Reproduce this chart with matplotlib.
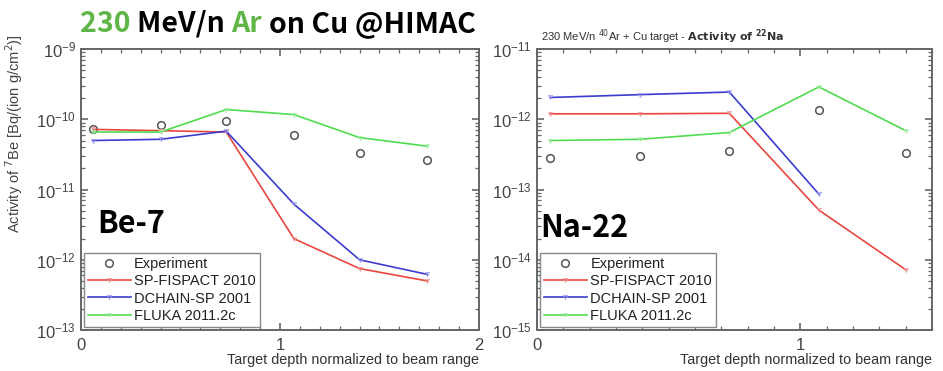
import matplotlib
matplotlib.use("Agg")
import matplotlib.pyplot as plt
from matplotlib.ticker import LogLocator, MultipleLocator, NullFormatter, FixedLocator

plt.rcParams['font.family'] = ['Liberation Sans', 'DejaVu Sans']

# Be-7 activity vs normalized target depth
be_depth = [0.06, 0.40, 0.73, 1.07, 1.40, 1.74]
be_exp = [7.4e-11, 8.3e-11, 9.5e-11, 5.9e-11, 3.3e-11, 2.6e-11]
be_fispact = [7.2e-11, 6.9e-11, 6.6e-11, 2.0e-12, 7.5e-13, 5.0e-13]
be_dchain = [5.0e-11, 5.2e-11, 6.8e-11, 6.2e-12, 1.0e-12, 6.2e-13]
be_fluka = [6.6e-11, 6.6e-11, 1.38e-10, 1.17e-10, 5.5e-11, 4.15e-11]

# Na-22 activity vs normalized target depth
na_depth = [0.05, 0.39, 0.73, 1.07, 1.40]
na_exp = [2.8e-13, 3.0e-13, 3.5e-13, 1.35e-12, 3.3e-13]
na_fispact = [1.2e-12, 1.2e-12, 1.22e-12, 5.1e-14, 7.2e-15]
na_dchain = [2.05e-12, 2.25e-12, 2.45e-12, 8.6e-14]
na_fluka = [5.0e-13, 5.2e-13, 6.5e-13, 2.9e-12, 6.9e-13]

labels = ["Experiment", "SP-FISPACT 2010", "DCHAIN-SP 2001", "FLUKA 2011.2c"]
RED, BLUE, GREEN = "#e8463f", "#3b3bd0", "#4fdc4f"
GRAY = "#666666"

fig = plt.figure(figsize=(9.43, 3.71), dpi=100)
ax1 = fig.add_axes([0.0859, 0.1105, 0.422, 0.757])
ax2 = fig.add_axes([0.5695, 0.1105, 0.419, 0.757])


def draw(ax, x, exp, fis, dch, flu):
    ax.plot(x[:len(exp)], exp, ls="none", marker="o", ms=5.5, mfc="none",
            mec="#555555", mew=1.1, label=labels[0])
    ax.plot(x[:len(fis)], fis, color=RED, lw=1.2, marker="v", ms=3,
            mfc="none", mec="#f0a0a0", mew=0.6, label=labels[1])
    ax.plot(x[:len(dch)], dch, color=BLUE, lw=1.2, marker="v", ms=3,
            mfc="none", mec="#a0a0f0", mew=0.6, label=labels[2])
    ax.plot(x[:len(flu)], flu, color=GREEN, lw=1.2, marker="v", ms=3,
            mfc="none", mec="#b0f0b0", mew=0.6, label=labels[3])


def style(ax, xmax, ylo, yhi, xticks):
    ax.set_yscale("log")
    ax.set_xlim(0, xmax)
    ax.set_ylim(ylo, yhi)
    ax.xaxis.set_major_locator(FixedLocator(xticks))
    ax.xaxis.set_minor_locator(MultipleLocator(0.1))
    ax.yaxis.set_major_locator(LogLocator(base=10))
    ax.yaxis.set_minor_locator(LogLocator(base=10, subs=range(2, 10)))
    ax.yaxis.set_minor_formatter(NullFormatter())
    ax.tick_params(which="both", direction="in", top=True, right=True,
                   color=GRAY, labelcolor="#444444", labelsize=12)
    ax.tick_params(which="major", length=5, width=1.2)
    ax.tick_params(which="minor", length=3, width=0.9)
    ax.tick_params(axis="x", pad=6)
    for s in ax.spines.values():
        s.set_color(GRAY)
        s.set_linewidth(1.4)
    ax.set_xlabel("Target depth normalized to beam range", fontsize=10.4,
                  color="#333333", loc="right", labelpad=0)
    leg = ax.legend(loc="lower left", fontsize=10.5, handlelength=2.9,
                    handletextpad=0.25, borderpad=0.3, labelspacing=0.22,
                    fancybox=False, framealpha=1, borderaxespad=0.2)
    leg.get_frame().set_edgecolor("#888888")
    leg.get_frame().set_linewidth(1.0)
    for t in leg.get_texts():
        t.set_color("#222222")


draw(ax1, be_depth, be_exp, be_fispact, be_dchain, be_fluka)
style(ax1, 2.0, 1e-13, 1e-9, [0, 1, 2])
ax1.set_ylabel(r"Activity of $^{7}$Be [Bq/(ion g/cm$^{2}$)]", fontsize=10.5,
               color="#444444")
ax1.yaxis.set_label_coords(-0.14, 0.70)
ax1.text(0.0, 1.01, r"230 MeV/n $^{40}$Ar + Cu target - $\mathbf{Activity\ of\ ^{7}Be}$",
         transform=ax1.transAxes, fontsize=8, color="#333333", va="bottom")

draw(ax2, na_depth, na_exp, na_fispact, na_dchain, na_fluka)
style(ax2, 1.5, 1e-15, 1e-11, [0, 1])
ax2.text(0.01, 1.01, r"230 MeV/n $^{40}$Ar + Cu target - $\mathbf{Activity\ of\ ^{22}Na}$",
         transform=ax2.transAxes, fontsize=8, color="#333333", va="bottom")

# big nuclide labels
big = dict(fontsize=22, family=["Noto Sans CJK KR", "DejaVu Sans"],
           fontweight="bold", color="black")
ax1.text(0.04, 0.345, "Be-7", transform=ax1.transAxes, **big)
ax2.text(0.008, 0.33, "Na-22", transform=ax2.transAxes, **big)

# headline over the left panel, drawn piece by piece for the two colours
hx, hy = 0.085, 0.936
head = dict(fontsize=20.5, family=["Noto Sans CJK KR", "DejaVu Sans"],
            fontweight="bold", va="center", zorder=5)
green = "#5fb646"
parts = [("230 ", green), ("MeV/n ", "black"), ("Ar ", green), ("on Cu @HIMAC", "black")]
r = fig.canvas.get_renderer()
x = hx
for s, c in parts:
    tt = fig.text(x, hy, s, color=c, **head)
    bb = tt.get_window_extent(renderer=r)
    x += bb.width / fig.bbox.width
fig.patches.append(plt.Rectangle((hx - 0.003, 0.885), x - hx + 0.006, 0.115,
                                 transform=fig.transFigure, facecolor="white",
                                 edgecolor="none", zorder=0.5))

fig.savefig("out.png", dpi=100)
